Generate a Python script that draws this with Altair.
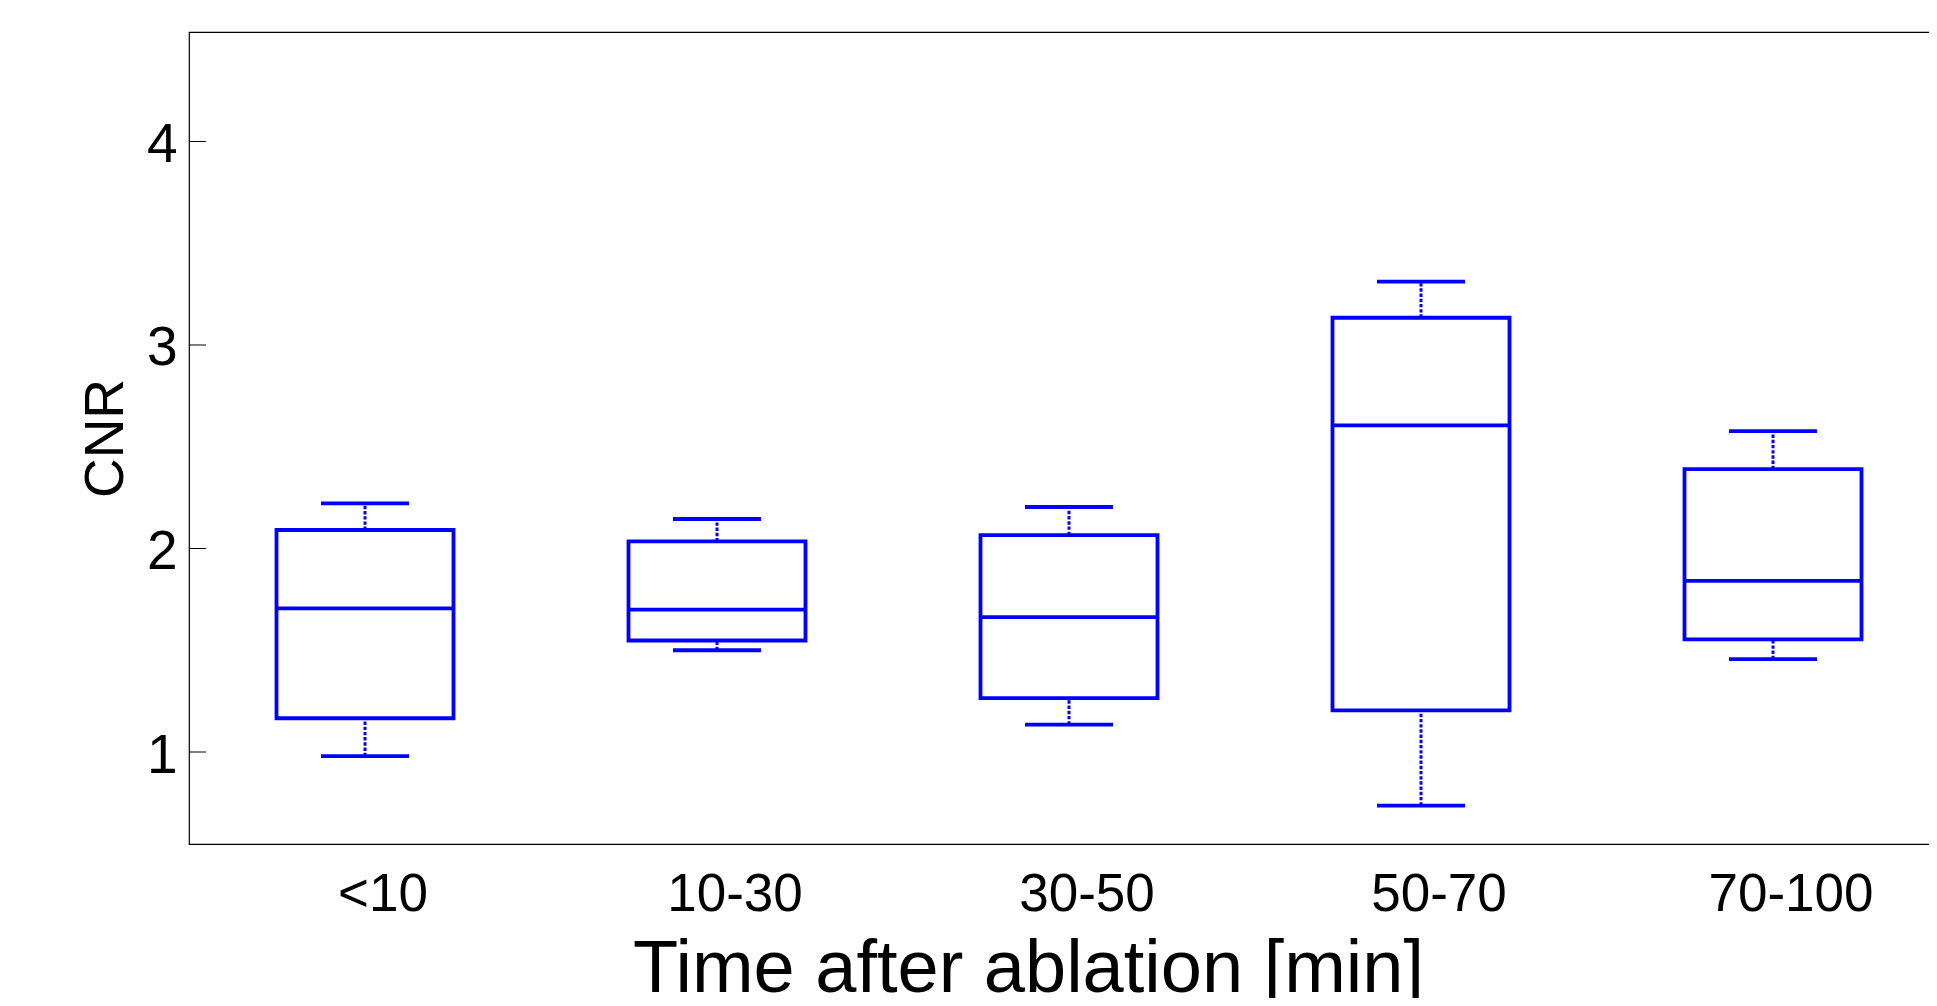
import altair as alt
import pandas as pd

categories = ["<10", "10-30", "30-50", "50-70", "70-100"]
whisker_low = [0.980, 1.500, 1.135, 0.737, 1.456]
q1 = [1.166, 1.548, 1.265, 1.205, 1.553]
median = [1.706, 1.700, 1.663, 2.605, 1.841]
q3 = [2.091, 2.035, 2.066, 3.134, 2.390]
whisker_high = [2.222, 2.145, 2.204, 3.311, 2.577]
y_ticks = [1, 2, 3, 4]

df = pd.DataFrame({"cat": categories, "lo": whisker_low, "q1": q1,
                   "med": median, "q3": q3, "hi": whisker_high})
tick_df = pd.DataFrame({"v": y_ticks})

W, H = 1760, 812
BLUE = "#0000ff"
FONT = "Liberation Sans"

x_enc = alt.X("cat:N", sort=categories,
              scale=alt.Scale(paddingInner=0, paddingOuter=0),
              axis=alt.Axis(title="Time after ablation [min]", labelAngle=0,
                            ticks=False, domain=False, grid=False,
                            labelFont=FONT, labelFontSize=53, labelColor="black",
                            labelPadding=66, labelBaseline="alphabetic",
                            labelOffset=18,
                            titleFont=FONT, titleFontSize=74, titleFontWeight="normal",
                            titleColor="black", titleX=839, titleY=147,
                            titleBaseline="alphabetic", titleAlign="center"))

y_axis = alt.Axis(values=y_ticks, title="CNR", ticks=False, domain=False, grid=False,
                  labelFont=FONT, labelFontSize=55, labelColor="black",
                  labelPadding=12, labelOffset=3,
                  titleFont=FONT, titleFontSize=55, titleFontWeight="normal",
                  titleColor="black", titleX=-67, titleY=406, titleAngle=270,
                  titleBaseline="alphabetic", titleAlign="center")
y_scale = alt.Scale(domain=[0.548, 4.538], nice=False, zero=False)

base = alt.Chart(df)

box = base.mark_bar(fill="transparent", stroke=BLUE, strokeWidth=3.8, size=177,
                    strokeJoin="miter").encode(
    x=x_enc, y=alt.Y("q1:Q", scale=y_scale, axis=y_axis), y2="q3:Q")

whisk_hi = base.mark_rule(color=BLUE, strokeWidth=3, strokeDash=[3.4, 1.8]).encode(
    x=x_enc, y=alt.Y("q3:Q", scale=y_scale, axis=y_axis), y2="hi:Q")
whisk_lo = base.mark_rule(color=BLUE, strokeWidth=3, strokeDash=[3.4, 1.8]).encode(
    x=x_enc, y=alt.Y("lo:Q", scale=y_scale, axis=y_axis), y2="q1:Q")

cap_hi = base.mark_tick(color=BLUE, size=88, thickness=3.8, opacity=1).encode(
    x=x_enc, y=alt.Y("hi:Q", scale=y_scale, axis=y_axis))
cap_lo = base.mark_tick(color=BLUE, size=88, thickness=3.8, opacity=1).encode(
    x=x_enc, y=alt.Y("lo:Q", scale=y_scale, axis=y_axis))
med = base.mark_tick(color=BLUE, size=177, thickness=3.8, opacity=1).encode(
    x=x_enc, y=alt.Y("med:Q", scale=y_scale, axis=y_axis))

ticks_left = alt.Chart(tick_df).mark_rule(color="black", strokeWidth=1).encode(
    y=alt.Y("v:Q", scale=y_scale, axis=y_axis), x=alt.value(0), x2=alt.value(17))
ticks_right = alt.Chart(tick_df).mark_rule(color="black", strokeWidth=1).encode(
    y=alt.Y("v:Q", scale=y_scale, axis=y_axis), x=alt.value(W - 17), x2=alt.value(W))

chart = alt.layer(box, whisk_hi, whisk_lo, cap_hi, cap_lo, med,
                  ticks_left, ticks_right).properties(
    width=W, height=H,
    autosize=alt.AutoSizeParams(type="none"),
    padding={"left": 181, "top": 24, "right": -20, "bottom": 154},
    background="white",
).configure_view(stroke="black", strokeWidth=1.2)

chart.save("out.html", embed_options={"renderer": "svg", "actions": False})
